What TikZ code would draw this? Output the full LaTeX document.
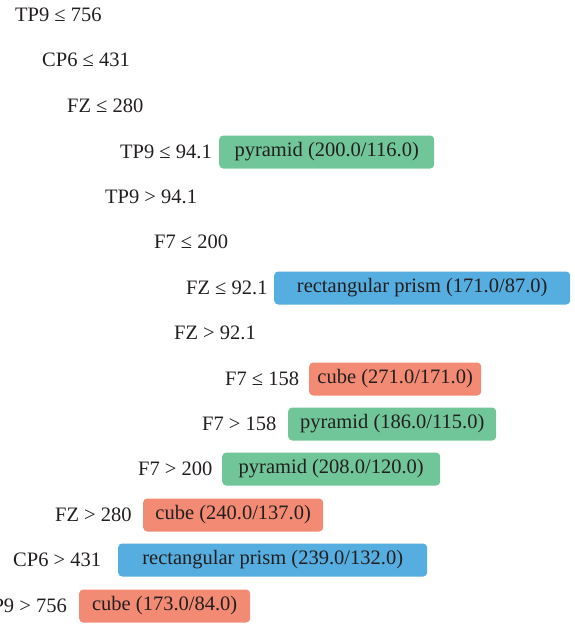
\documentclass[tikz,border=0pt]{standalone}
\usepackage{fontspec}
\setmainfont{Liberation Serif}
\usetikzlibrary{positioning}

\definecolor{txtgray}{HTML}{231F20}
\definecolor{leafgreen}{HTML}{70C698}
\definecolor{leafblue}{HTML}{55ADE0}
\definecolor{leafred}{HTML}{F28A74}

\begin{document}
\begin{tikzpicture}
[x=1pt,y=-1pt,font=\fontsize{20.5}{23}\selectfont,
  condText/.style={anchor=west,inner sep=0pt,text height=13pt,text depth=0pt,text=txtgray},
  leafBox/.style={anchor=west,rounded corners=4pt,inner xsep=8pt,inner ysep=8pt,
    minimum height=33pt,text height=13pt,text depth=4pt,text=txtgray}]
\useasboundingbox (0,0) rectangle (575,625);
%% split conditions
\foreach \nodename/\x/\y/\cond in {
  c1/15/15/{TP9 ≤ 756}, c2/42/60/{CP6 ≤ 431}, c3/67/106/{FZ ≤ 280},
  c4/120/152/{TP9 ≤ 94.1}, c5/105/197/{TP9 > 94.1}, c6/154/242/{F7 ≤ 200},
  c7/186/288/{FZ ≤ 92.1}, c8/174/333/{FZ > 92.1}, c9/225/379/{F7 ≤ 158},
  c10/202/424/{F7 > 158}, c11/138/469/{F7 > 200}, c12/55/515/{FZ > 280},
  c13/13/560/{CP6 > 431}}
{
  \node (\nodename) at (\x,\y) [condText] {\cond};
}
\node (c14) at (67,606) [condText,anchor=east] {TP9 > 756};
%% leaves
\node (l4) at (219,152) [leafBox,fill=leafgreen,minimum width=215pt] {pyramid (200.0/116.0)};
\node (l7) at (274,288) [leafBox,fill=leafblue,minimum width=296pt] {rectangular prism (171.0/87.0)};
\node (l9) at (309,379) [leafBox,fill=leafred,minimum width=172pt] {cube (271.0/171.0)};
\node (l10) at (288,424) [leafBox,fill=leafgreen,minimum width=208pt] {pyramid (186.0/115.0)};
\node (l11) at (222,469) [leafBox,fill=leafgreen,minimum width=218pt] {pyramid (208.0/120.0)};
\node (l12) at (143,515) [leafBox,fill=leafred,minimum width=180pt] {cube (240.0/137.0)};
\node (l13) at (118,560) [leafBox,fill=leafblue,minimum width=309pt] {rectangular prism (239.0/132.0)};
\node (l14) at (79,606) [leafBox,fill=leafred,minimum width=171pt] {cube (173.0/84.0)};
\end{tikzpicture}
\end{document}
